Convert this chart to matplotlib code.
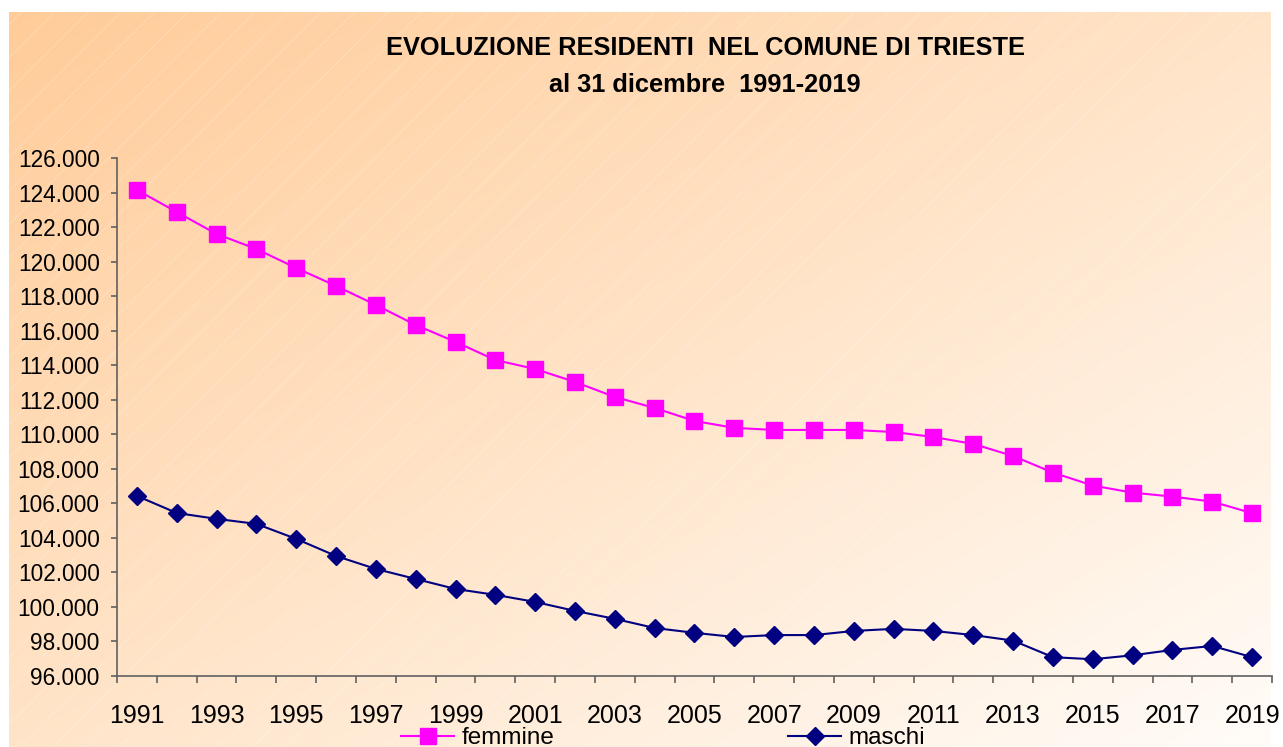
import numpy as np
import matplotlib
matplotlib.use("Agg")
import matplotlib.pyplot as plt
from matplotlib.ticker import FuncFormatter, FixedLocator
from matplotlib.patches import Rectangle

years = list(range(1991, 2020))
femmine = [124150, 122870, 121600, 120730, 119630, 118590, 117490, 116330, 115350, 114300,
           113780, 113030, 112160, 111520, 110770, 110370, 110250, 110250, 110250, 110130,
           109840, 109440, 108740, 107780, 107030, 106620, 106390, 106100, 105430]
maschi = [106430, 105440, 105100, 104810, 103940, 102950, 102200, 101620, 101040, 100700,
          100290, 99770, 99310, 98780, 98500, 98260, 98370, 98370, 98610, 98730,
          98610, 98370, 98050, 97090, 96970, 97200, 97510, 97740, 97090]
series_names = ["femmine", "maschi"]
title_lines = ["EVOLUZIONE RESIDENTI  NEL COMUNE DI TRIESTE", "al 31 dicembre  1991-2019"]

plt.rcParams['font.family'] = ['Liberation Sans', 'DejaVu Sans']

W, H = 1283, 747
fig = plt.figure(figsize=(W / 100, H / 100), dpi=100)

# background gradient panel
bx0, by0, bx1, by1 = 9, 12, 1271, 747
bg = fig.add_axes([bx0 / W, 1 - by1 / H, (bx1 - bx0) / W, (by1 - by0) / H], zorder=0)
ny, nx = 200, 340
xx, yy = np.meshgrid(np.linspace(0, 1, nx), np.linspace(0, 1, ny))
t = (xx + yy) / 2.0
c0 = np.array([255, 204, 153]) / 255.0
c1 = np.array([255, 252, 248]) / 255.0
img = c0[None, None, :] * (1 - t[..., None]) + c1[None, None, :] * t[..., None]
bg.imshow(img, aspect='auto', extent=[0, 1, 1, 0], interpolation='bilinear')
plt.rcParams['hatch.linewidth'] = 0.6
bg.add_patch(Rectangle((0, 0), 1, 1, facecolor='none', edgecolor=(1, 1, 1, 0.25),
                       hatch='/', linewidth=0, transform=bg.transAxes))
bg.set_xlim(0, 1)
bg.set_ylim(1, 0)
bg.axis('off')

# main axes
L, R, B, T = 117, 1272, 676, 158
ax = fig.add_axes([L / W, 1 - B / H, (R - L) / W, (B - T) / H], zorder=1)
ax.patch.set_visible(False)

x = np.arange(len(years))
l1, = ax.plot(x, femmine, color='#FF00FF', lw=1.5, marker='s', ms=11.5,
              markeredgecolor='#FF00FF', clip_on=False)
l2, = ax.plot(x, maschi, color='#000080', lw=1.5, marker='D', ms=9.5,
              markeredgecolor='#000080', clip_on=False)

ax.set_xlim(-0.5, len(years) - 0.5)
ax.set_ylim(96000, 126000)
ax.set_yticks(np.arange(96000, 126001, 2000))
ax.yaxis.set_major_formatter(FuncFormatter(lambda v, p: f"{int(v):,}".replace(",", ".")))

ax.xaxis.set_major_locator(FixedLocator(np.arange(-0.5, len(years), 1.0)))
ax.xaxis.set_minor_locator(FixedLocator(x[::2]))
ax.set_xticklabels([], minor=False)
ax.set_xticklabels([str(y) for y in years[::2]], minor=True)

spine_col = '#606060'
for s in ['top', 'right']:
    ax.spines[s].set_visible(False)
for s in ['left', 'bottom']:
    ax.spines[s].set_color(spine_col)
    ax.spines[s].set_linewidth(1.2)

ax.tick_params(axis='y', direction='out', length=4.5, width=1.2, color=spine_col,
               labelsize=16.3, pad=8, labelcolor='black')
ax.tick_params(axis='x', which='major', direction='out', length=5, width=1.2, color=spine_col)
ax.tick_params(axis='x', which='minor', length=0, labelsize=18, pad=20, labelcolor='black')

# title
fig.text(705 / W, 1 - 48 / H, title_lines[0], ha='center', va='center',
         fontsize=18.3, fontweight='bold')
fig.text(705 / W, 1 - 85 / H, title_lines[1], ha='center', va='center',
         fontsize=18.3, fontweight='bold')

leg = fig.legend([l1, l2], series_names, loc='center left',
                 bbox_to_anchor=(401 / W, 1 - 738 / H), ncol=2, frameon=False,
                 fontsize=17.5, handlelength=2.2, handletextpad=0.3, columnspacing=9.6,
                 borderpad=0, borderaxespad=0)

fig.savefig("out.png", dpi=100)
